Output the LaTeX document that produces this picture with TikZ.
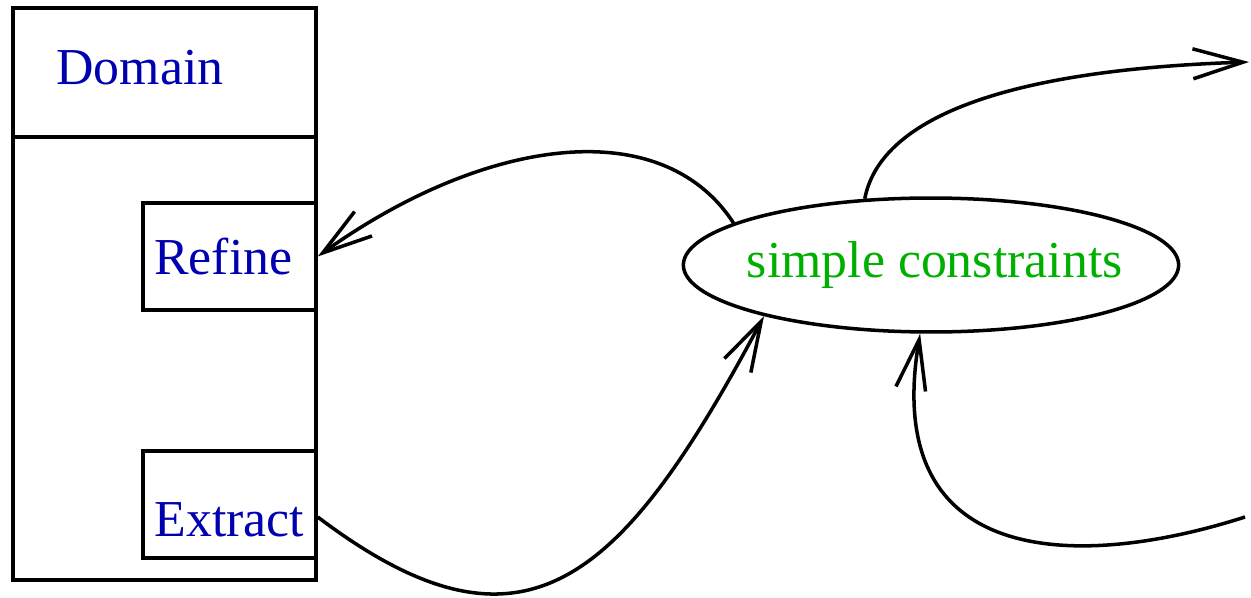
\documentclass[tikz,border=0pt]{standalone}
\usepackage{fontspec}
\setmainfont{Liberation Serif}
\usetikzlibrary{shapes.geometric,positioning,arrows.meta}

\definecolor{figblue}{RGB}{0,0,176}
\definecolor{figgreen}{RGB}{0,176,0}

\begin{document}
\begin{tikzpicture}[
  x=0.02cm, y=-0.02cm,
  frame/.style={rectangle, draw, line width=2pt, inner sep=0pt},
  sub/.style={frame, minimum width=3.46cm, minimum height=2.14cm,
              font=\fontsize{29.5}{34}\selectfont, text=figblue},
  cloud/.style={ellipse, draw, line width=2pt, inner ysep=0pt, inner xsep=-0.33cm,
                minimum width=9.85cm, minimum height=2.68cm,
                font=\fontsize{29.5}{34}\selectfont, text=figgreen},
  arrow/.style={-{Straight Barb[length=1cm, width=0.6cm]}, line width=2pt},
  link/.style={line width=2pt},
]
\useasboundingbox (0,0) rectangle (1251,598);

% domain column
\node[frame, minimum width=6.06cm, minimum height=11.44cm] (domain) at (164.5,294) {};
\draw[link] (domain.west |- 0,137) -- (domain.east |- 0,137);
\node[font=\fontsize{29.5}{34}\selectfont, text=figblue] (domainlbl) at (140,68) {Domain};

\node[sub] (refine) at (229.5,256.5) {Refine\hspace*{0.25cm}};
\node[sub, text height=1.3cm, text depth=0pt] (extract) at (229.5,504.5) {Extract};

% constraints
\node[cloud] (simple) at (931,265) {\hspace*{0.15cm}simple constraints};

\coordinate (outR) at (1249,62);
\coordinate (inR) at (1245,517);

\draw[arrow] (simple.168) .. controls (660,110) and (480,140) .. (refine.east);
\draw[arrow] ([yshift=-0.25cm]extract.east) .. controls (524,673) and (621,584) .. (simple.197);
\draw[arrow] (simple.135) .. controls (880,120) and (1000,70) .. (outR);
\draw[arrow] (inR) .. controls (1080,570) and (880,570) .. (simple.261);

\end{tikzpicture}
\end{document}
